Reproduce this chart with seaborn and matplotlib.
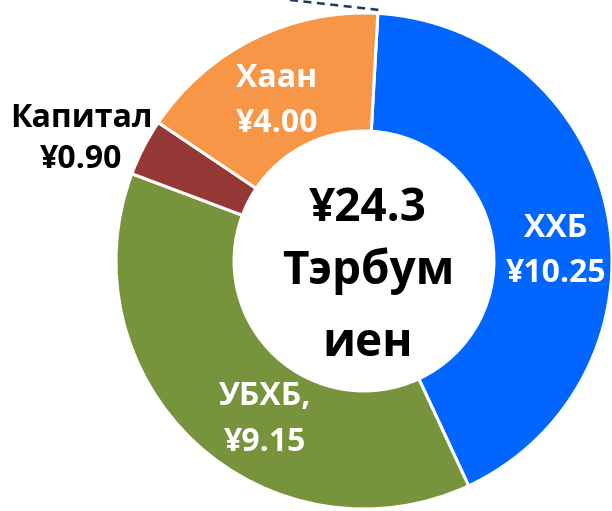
import matplotlib
matplotlib.use("Agg")
import matplotlib.pyplot as plt
import seaborn as sns

# Data (billion yen)
banks = ["ХХБ", "УБХБ", "Капитал", "Хаан"]
amounts = [10.25, 9.15, 0.90, 4.00]
amount_text = ["¥10.25", "¥9.15", "¥0.90", "¥4.00"]
name_text = ["ХХБ", "УБХБ,", "Капитал", "Хаан"]
total_lines = ["¥24.3", "Тэрбум", "иен"]

colors = ["#0066FF", "#77933C", "#953735", "#F79646"]
label_colors = ["white", "white", "black", "white"]

sns.set_theme(style="white")
plt.rcParams["font.family"] = ["Open Sans", "DejaVu Sans"]

W, H = 612, 511
fig = plt.figure(figsize=(W / 100, H / 100), dpi=100)
ax = fig.add_axes([0, 0, 1, 1])

# donut centre sits at (364, 261) px, radius 248 px
cx, cy, r = 364, 261, 248
ax.pie(amounts, colors=colors, startangle=86.8, counterclock=False,
       radius=1.0, wedgeprops=dict(width=0.476, edgecolor="white", linewidth=2.2))
ax.set_aspect("auto")
ax.set_xlim(-cx / r, (W - cx) / r)
ax.set_ylim(-(H - cy) / r, cy / r)
ax.axis("off")


def fpos(px, py):
    # image pixel (top-left origin) -> figure fraction
    return px / W, 1 - py / H


# label line baselines in image pixels: (x centre, name baseline, value baseline)
label_pos = [(556, 237, 282), (265, 405, 451), (81, 127, 168), (277, 87, 132)]
for name, val, col, (x, y1, y2) in zip(name_text, amount_text, label_colors, label_pos):
    fig.text(*fpos(x, y1), name, ha="center", va="baseline", color=col,
             fontsize=23, fontweight="bold")
    fig.text(*fpos(x, y2), val, ha="center", va="baseline", color=col,
             fontsize=23, fontweight="bold")

centre_baselines = [221, 284, 356]
for line, yb in zip(total_lines, centre_baselines):
    fig.text(*fpos(368, yb), line, ha="center", va="baseline", color="black",
             fontsize=33, fontweight="bold")

# dashed leader line at the top edge
fig.add_artist(plt.Line2D([290 / W, 384 / W], [1 - 0 / H, 1 - 10.5 / H],
                          transform=fig.transFigure, color="#1F3A5F",
                          linewidth=1.8, linestyle=(0, (3.2, 2.2))))

fig.savefig("out.png", dpi=100)
